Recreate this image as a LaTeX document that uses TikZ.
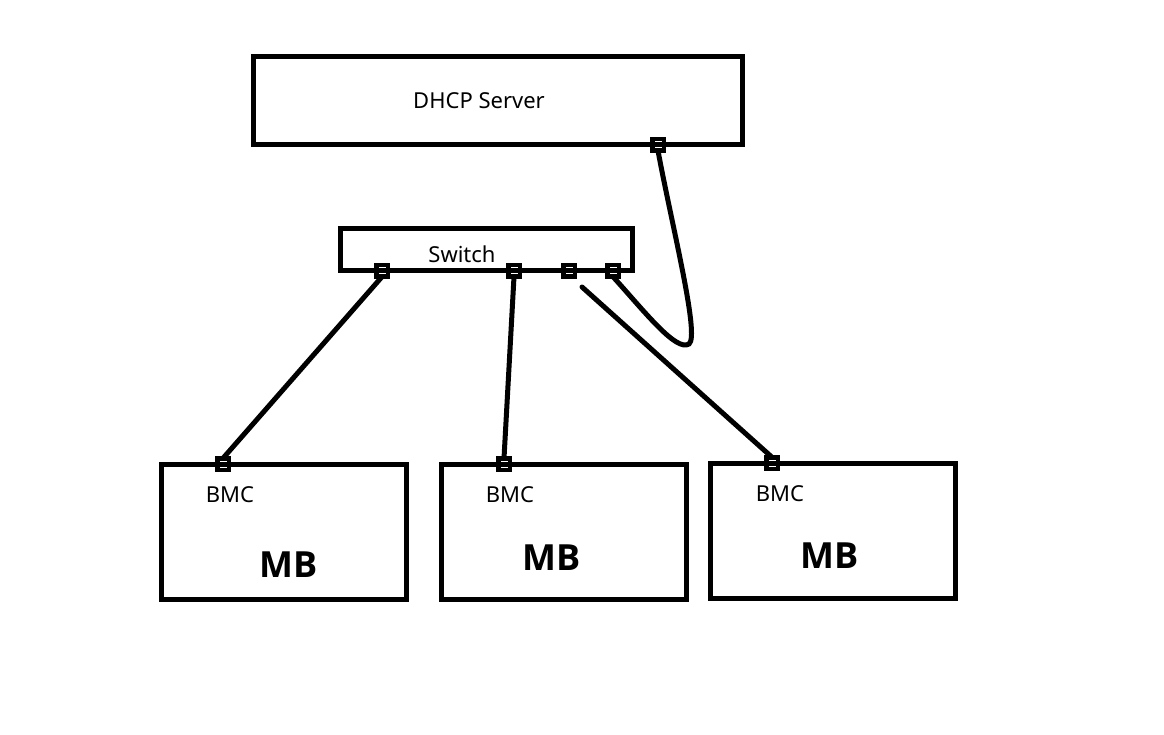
\documentclass[tikz,border=0pt]{standalone}
\usepackage{fontspec}
\setmainfont{Noto Sans}
\newfontfamily\mbfont{Open Sans}
\tikzset{
  box/.style={draw, line width=5pt},
  port/.style={draw, line width=4.5pt, fill=none, minimum size=11.5pt, inner sep=0pt, outer sep=0pt},
  wire/.style={line width=5pt, line cap=round},
  lbl/.style={anchor=base, inner sep=0pt, font=\fontsize{22}{26}\selectfont},
  mb/.style={anchor=base, inner sep=0pt, font=\mbfont\bfseries\fontsize{36}{40}\selectfont},
}
\begin{document}
\begin{tikzpicture}[x=1pt,y=-1pt]
\useasboundingbox (0,0) rectangle (1164,735);
% boxes
\draw[box] (253,57) rectangle (742,145);
\draw[box] (340,229) rectangle (632,271);
\draw[box] (161,464) rectangle (406,599);
\draw[box] (441,464) rectangle (686,599);
\draw[box] (710,463) rectangle (955,598);
% labels
\node[lbl] (tdhcp) at (479,109) {DHCP Server};
\node[lbl] (tsw) at (462,262) {Switch};
\node[lbl] (tb1) at (230,502) {BMC};
\node[lbl] (tb2) at (510,502) {BMC};
\node[lbl] (tb3) at (780,501) {BMC};
\node[mb] (tm1) at (289,577) {MB};
\node[mb] (tm2) at (552,570) {MB};
\node[mb] (tm3) at (830,568) {MB};
% ports
\node[port] (pd) at (658,145) {};
\node[port] (s1) at (382,271) {};
\node[port] (s2) at (514,271) {};
\node[port] (s3) at (569,271) {};
\node[port] (s4) at (613,271) {};
\node[port] (b1) at (223,464) {};
\node[port] (b2) at (504,464) {};
\node[port] (b3) at (772,463) {};
\coordinate (w3) at (582,287);
% wires
\draw[wire] (s1.south) -- (b1.north);
\draw[wire] (s2.south) -- (b2.north);
\draw[wire] (w3) -- (b3.north);
\draw[wire] (s4.south) .. controls (645,312) and (676,352) .. (689,344)
  .. controls (700,336) and (672,226) .. (pd.south);
\end{tikzpicture}
\end{document}
